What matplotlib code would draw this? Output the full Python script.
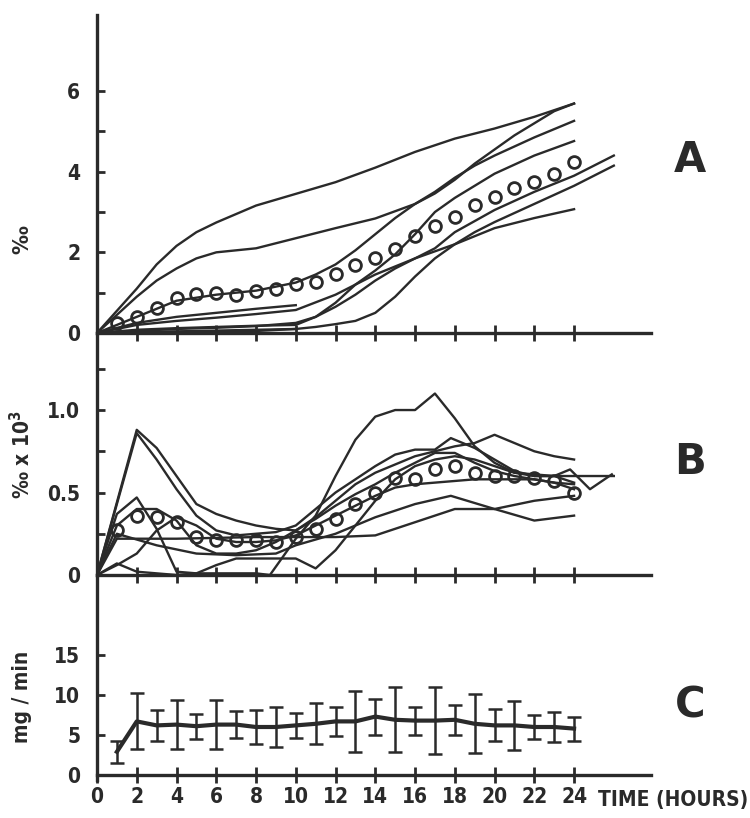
import numpy as np
import matplotlib
matplotlib.use('Agg')
import matplotlib.pyplot as plt
import matplotlib as mpl
from matplotlib import font_manager

# narrow bold face, closest to the old typewritten-stencil labels
_names = {f.name for f in font_manager.fontManager.ttflist}
_condensed = any(f.name == 'DejaVu Sans' and f.stretch == 'condensed'
                 for f in font_manager.fontManager.ttflist)
if 'Liberation Sans Narrow' in _names:
    mpl.rcParams['font.family'] = 'Liberation Sans Narrow'
else:
    mpl.rcParams['font.family'] = 'DejaVu Sans'
    if _condensed:
        mpl.rcParams['font.stretch'] = 'condensed'
mpl.rcParams['font.weight'] = 'bold'

INK = '#2a2a2a'

hours = list(range(1, 25))
ticks_x = list(range(0, 25, 2))

# --- panel A: cumulative % (individual subjects + mean circles)
a_mean = [0.25, 0.39, 0.62, 0.87, 0.96, 1.0, 0.94, 1.04, 1.1, 1.22, 1.27, 1.47,
          1.69, 1.87, 2.08, 2.41, 2.66, 2.88, 3.18, 3.37, 3.6, 3.74, 3.95, 4.24]
a_lines = [
    ([0, 1, 2, 3, 4, 5, 6, 8, 10, 12, 14, 16, 18, 20, 22, 24],
     [0, 0.55, 1.1, 1.7, 2.16, 2.5, 2.74, 3.16, 3.45, 3.74, 4.1, 4.49, 4.82, 5.07, 5.36, 5.69]),
    ([0, 1, 2, 3, 4, 5, 6, 7, 8, 10, 12, 14, 16, 17, 18, 19, 20, 21, 22, 23, 24],
     [0, 0.45, 0.9, 1.3, 1.6, 1.85, 2.0, 2.05, 2.1, 2.35, 2.6, 2.84, 3.2, 3.46, 3.8, 4.2, 4.55, 4.9, 5.2, 5.5, 5.69]),
    ([0, 2, 4, 6, 8, 10, 11, 12, 13, 14, 15, 16, 17, 18, 19, 20, 22, 24],
     [0, 0.4, 0.8, 0.95, 1.05, 1.25, 1.45, 1.7, 2.05, 2.45, 2.85, 3.2, 3.5, 3.85, 4.15, 4.4, 4.85, 5.26]),
    ([0, 2, 4, 6, 8, 10, 11, 12, 13, 14, 15, 16, 17, 18, 20, 22, 24],
     [0, 0.08, 0.12, 0.15, 0.18, 0.2, 0.4, 0.75, 1.2, 1.55, 1.95, 2.45, 3.0, 3.35, 3.95, 4.4, 4.76]),
    ([0, 2, 4, 6, 8, 10, 12, 14, 16, 18, 20, 22, 24],
     [0, 0.2, 0.3, 0.38, 0.47, 0.57, 0.95, 1.45, 1.85, 2.2, 2.6, 2.85, 3.07]),
    ([0, 2, 4, 6, 8, 10, 11, 12, 13, 14, 15, 16, 17, 18, 20, 22, 24, 26],
     [0, 0.05, 0.1, 0.13, 0.17, 0.25, 0.4, 0.65, 0.95, 1.3, 1.6, 1.85, 2.1, 2.5, 3.05, 3.5, 3.9, 4.4]),
    ([0, 4, 8, 10, 11, 12, 13, 14, 15, 16, 17, 18, 19, 20, 22, 24, 26],
     [0, 0.03, 0.05, 0.1, 0.15, 0.22, 0.3, 0.5, 0.9, 1.4, 1.85, 2.2, 2.5, 2.75, 3.2, 3.65, 4.15]),
    ([0, 2, 4, 6, 8, 10], [0, 0.25, 0.4, 0.5, 0.6, 0.69]),
    ([0, 4, 8, 10], [0, 0.04, 0.08, 0.1]),
]

# --- panel B: rate (% x 10^3)
b_mean = [0.27, 0.36, 0.35, 0.32, 0.23, 0.21, 0.21, 0.21, 0.2, 0.23, 0.28, 0.34,
          0.43, 0.5, 0.59, 0.58, 0.64, 0.66, 0.62, 0.6, 0.6, 0.59, 0.57, 0.5]
b_lines = [
    ([0, 2, 3, 4, 5, 6, 7, 8, 9, 10, 11, 12, 13, 14, 15, 16, 17, 18, 19, 20, 21, 22, 23, 24],
     [0, 0.88, 0.77, 0.6, 0.43, 0.37, 0.33, 0.3, 0.28, 0.27, 0.35, 0.45, 0.55, 0.62, 0.67, 0.72,
      0.75, 0.78, 0.8, 0.85, 0.8, 0.75, 0.72, 0.7]),
    ([0, 2, 3, 4, 5, 6, 7, 8, 9, 10, 11, 12, 13, 14, 15, 16, 17, 17.8, 19, 20, 21, 22, 23, 24],
     [0, 0.86, 0.7, 0.52, 0.36, 0.27, 0.24, 0.25, 0.26, 0.3, 0.4, 0.5, 0.58, 0.66, 0.73, 0.76,
      0.76, 0.83, 0.77, 0.7, 0.63, 0.6, 0.6, 0.56]),
    ([0, 1, 2, 3, 4, 5, 6, 7, 8, 8.7, 10, 11, 12, 13, 14, 15, 16, 17, 18, 19, 20, 21, 22, 24, 26],
     [0, 0.37, 0.47, 0.28, 0.02, 0.01, 0.01, 0.01, 0.01, 0.0, 0.22, 0.36, 0.6, 0.82, 0.96, 1.0,
      1.0, 1.1, 0.95, 0.78, 0.68, 0.62, 0.6, 0.6, 0.6]),
    ([0, 1, 2, 3, 4, 5, 6, 7, 8, 9, 10, 11, 12, 13, 14, 15, 16, 17, 18, 19, 20, 21, 22, 23, 24],
     [0, 0.3, 0.4, 0.4, 0.33, 0.18, 0.13, 0.13, 0.15, 0.2, 0.27, 0.34, 0.42, 0.49, 0.55, 0.62,
      0.68, 0.74, 0.74, 0.68, 0.63, 0.6, 0.58, 0.56, 0.55]),
    ([0, 1, 2, 3, 4, 5, 6, 7, 8, 9, 10, 11, 12, 13, 14, 15, 16, 17, 18, 19, 20, 21, 22, 23, 24],
     [0, 0.06, 0.13, 0.27, 0.35, 0.3, 0.22, 0.2, 0.2, 0.21, 0.24, 0.3, 0.36, 0.42, 0.48, 0.53,
      0.55, 0.56, 0.57, 0.58, 0.58, 0.58, 0.58, 0.56, 0.52]),
    ([0, 1, 3, 5, 7, 9, 10, 12, 14, 16, 17.8, 20, 22, 24],
     [0, 0.25, 0.18, 0.13, 0.12, 0.13, 0.18, 0.25, 0.35, 0.43, 0.48, 0.4, 0.33, 0.36]),
    ([0, 1, 4, 8, 12, 14, 16, 18, 20, 22, 24],
     [0, 0.22, 0.22, 0.23, 0.23, 0.24, 0.32, 0.4, 0.4, 0.45, 0.48]),
    ([0, 1, 2, 4, 5, 6, 7, 9, 10, 11, 12, 13, 14, 15, 16, 17, 18, 19, 20, 21, 22, 23, 23.8, 24.8, 25.9],
     [0, 0.07, 0.02, 0.0, 0.01, 0.06, 0.1, 0.1, 0.1, 0.04, 0.15, 0.3, 0.45, 0.58, 0.66, 0.7,
      0.72, 0.7, 0.66, 0.62, 0.61, 0.6, 0.64, 0.52, 0.61]),
]

# --- panel C: mg/min, mean +- spread
c_mean = [2.9, 6.7, 6.2, 6.3, 6.1, 6.3, 6.3, 6.0, 6.0, 6.2, 6.4, 6.7,
          6.7, 7.3, 6.9, 6.8, 6.8, 6.9, 6.4, 6.2, 6.2, 6.0, 6.0, 5.8]
c_err = [1.35, 3.5, 1.9, 3.1, 1.55, 3.1, 1.65, 2.1, 2.55, 1.6, 2.55, 1.85,
         3.8, 2.25, 4.05, 1.75, 4.2, 1.85, 3.7, 2.0, 3.1, 1.45, 1.9, 1.5]

W, H = 750, 818
fig = plt.figure(figsize=(W / 100, H / 100), dpi=100)


def px_axes(top, bottom):
    return fig.add_axes([97 / W, 1 - bottom / H, (651 - 97) / W, (bottom - top) / H])


axA = px_axes(15, 333)
axB = px_axes(333, 575)
axC = px_axes(575, 780)

for ax in (axA, axB, axC):
    ax.set_xlim(0, 27.87)
    for s in ('top', 'right'):
        ax.spines[s].set_visible(False)
    for s in ('left', 'bottom'):
        ax.spines[s].set_linewidth(2.4)
        ax.spines[s].set_color(INK)
    ax.spines['bottom'].set_position(('data', 0))
    ax.set_xticks(ticks_x)
    ax.tick_params(axis='x', direction='inout', length=11, width=2, color=INK,
                   labelsize=15, labelcolor=INK, pad=3)
    ax.tick_params(axis='y', which='both', direction='in', length=6, width=2, color=INK,
                   labelsize=15, labelcolor=INK, pad=12)
    ax.patch.set_visible(False)

axA.tick_params(axis='x', labelbottom=False)
axB.tick_params(axis='x', labelbottom=False)

# A
for t, v in a_lines:
    axA.plot(t, v, color=INK, lw=1.7)
axA.plot(hours, a_mean, 'o', ms=8.5, mfc='none', mec=INK, mew=2)
axA.set_ylim(0, 7.885)
axA.set_yticks([0, 2, 4, 6])
axA.set_yticks([1, 3, 5], minor=True)

# B
for t, v in b_lines:
    axB.plot(t, v, color=INK, lw=1.7)
axB.plot(hours, b_mean, 'o', ms=8.5, mfc='none', mec=INK, mew=2)
axB.set_ylim(0, 1.467)
axB.set_yticks([0, 0.5, 1.0])
axB.set_yticklabels(['0', '0.5', '1.0'])
axB.set_yticks([0.25, 0.75, 1.25], minor=True)

# C
axC.errorbar(hours, c_mean, yerr=c_err, color=INK, lw=3, elinewidth=1.8,
             capsize=5, capthick=1.8)
axC.set_ylim(-0.625, 25)
axC.set_yticks([0, 5, 10, 15])
axC.set_xticklabels([str(h) for h in ticks_x])

# labels
fig.text(22 / W, 1 - 240 / H, '\u2030', rotation=90, ha='center', va='center',
         fontsize=16, color=INK, family='DejaVu Sans')
fig.text(22 / W, 1 - 455 / H, '\u2030 x 10$^3$', rotation=90, ha='center', va='center',
         fontsize=15, color=INK)
fig.text(22 / W, 1 - 697 / H, 'mg / min', rotation=90, ha='center', va='center',
         fontsize=15, color=INK)
fig.text(598 / W, 1 - 800 / H, 'TIME (HOURS)', ha='left', va='center',
         fontsize=15, color=INK)
for letter, y in (('A', 160), ('B', 462), ('C', 705)):
    fig.text(690 / W, 1 - y / H, letter, ha='center', va='center', fontsize=30,
             color=INK, family='DejaVu Sans', stretch='normal')

fig.savefig('out.png', dpi=100)
